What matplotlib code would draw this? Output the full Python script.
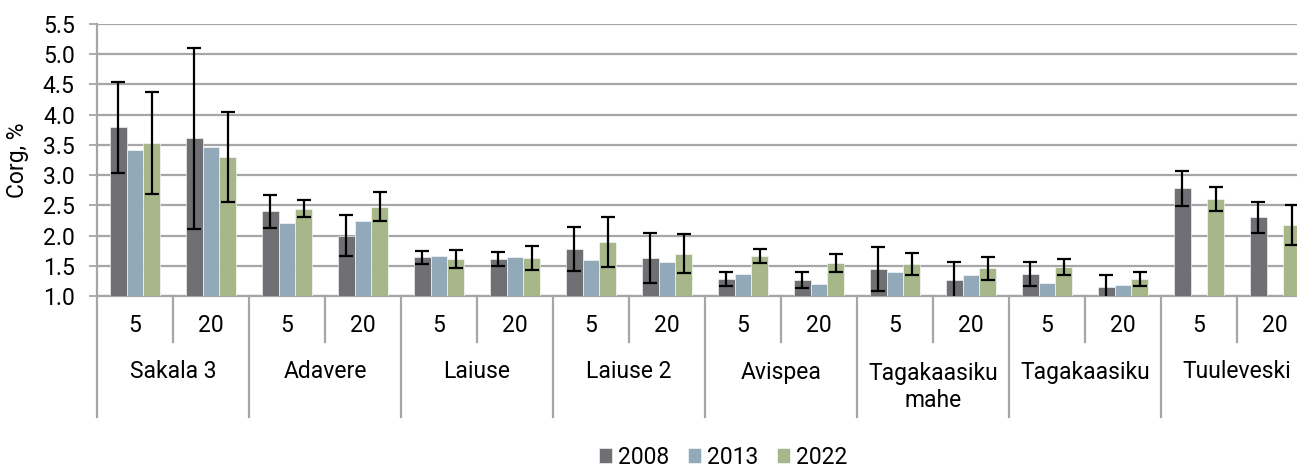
import numpy as np
import matplotlib.pyplot as plt
import matplotlib.transforms as mtransforms

plt.rcParams['font.family'] = ['Roboto', 'DejaVu Sans']

sites = ["Sakala 3", "Adavere", "Laiuse", "Laiuse 2", "Avispea",
         "Tagakaasiku\nmahe", "Tagakaasiku", "Tuuleveski"]
depths = ["5", "20"]
years = ["2008", "2013", "2022"]
colors = ["#706f74", "#91a9b9", "#a8b78a"]

# mean Corg per site/depth (5, 20 for each site in turn)
corg_2008 = [3.79, 3.61, 2.40, 2.00, 1.64, 1.61, 1.78, 1.63,
             1.28, 1.26, 1.45, 1.26, 1.37, 1.15, 2.78, 2.30]
corg_2013 = [3.42, 3.47, 2.21, 2.24, 1.67, 1.64, 1.60, 1.56,
             1.36, 1.20, 1.40, 1.34, 1.21, 1.18, np.nan, np.nan]
corg_2022 = [3.53, 3.30, 2.44, 2.48, 1.61, 1.63, 1.89, 1.70,
             1.66, 1.54, 1.53, 1.46, 1.48, 1.28, 2.60, 2.18]
# standard deviations (2013 has none)
sd_2008 = [0.75, 1.50, 0.27, 0.34, 0.11, 0.11, 0.36, 0.42,
           0.12, 0.13, 0.36, 0.31, 0.20, 0.20, 0.29, 0.26]
sd_2022 = [0.85, 0.74, 0.14, 0.24, 0.15, 0.20, 0.41, 0.32,
           0.11, 0.15, 0.18, 0.19, 0.14, 0.12, 0.20, 0.33]

values = [corg_2008, corg_2013, corg_2022]
errors = [sd_2008, None, sd_2022]

FS = 16.5

fig = plt.figure(figsize=(12.97, 4.68), dpi=100)
ax = fig.add_axes([97 / 1297, 172 / 468, 1216 / 1297, 272 / 468])

n = len(corg_2008)
x = np.arange(n)
w = 0.22
for i in range(3):
    ax.bar(x + (i - 1) * w, values[i], w, color=colors[i], label=years[i],
           edgecolor="white", linewidth=0.4, zorder=3)
    if errors[i] is not None:
        ax.errorbar(x + (i - 1) * w, values[i], yerr=errors[i], fmt="none",
                    ecolor="black", elinewidth=1.6, capsize=5, capthick=1.6,
                    zorder=4)

ax.set_xlim(-0.5, n - 0.5)
ax.set_ylim(1.0, 5.5)
ticks = np.arange(1.0, 5.51, 0.5)
ax.set_yticks(ticks)
ax.set_yticklabels(["%.1f" % v for v in ticks], fontsize=FS)
ax.yaxis.grid(True, color="#a6a6a6", linewidth=1.6, zorder=0)
ax.set_axisbelow(True)
ax.tick_params(axis="y", length=6, width=1.3, color="#a6a6a6", pad=10)
ax.set_xticks([])
for s in ["top", "right"]:
    ax.spines[s].set_visible(False)
for s in ["left", "bottom"]:
    ax.spines[s].set_color("#a6a6a6")
    ax.spines[s].set_linewidth(1.6)
ax.set_ylabel("Corg, %", fontsize=FS, labelpad=10)

# two-level category axis below the bars
trans = mtransforms.blended_transform_factory(ax.transData, fig.transFigure)
y_axis = 172 / 468
y_depth_line = (468 - 342) / 468
y_site_line = (468 - 417) / 468
y_depth_txt = (468 - 326) / 468
y_site_txt = (468 - 372) / 468
y_site_txt2 = (468 - 387) / 468

for k in range(n + 1):
    bx = k - 0.5
    y_end = y_site_line if k % 2 == 0 else y_depth_line
    ax.plot([bx, bx], [y_axis, y_end], transform=trans, color="#a6a6a6",
            linewidth=1.6, clip_on=False)
for k in range(n):
    ax.text(k, y_depth_txt, depths[k % 2], transform=trans, ha="center",
            va="center", fontsize=FS)
for j, site in enumerate(sites):
    yy = y_site_txt2 if "\n" in site else y_site_txt
    ax.text(2 * j + 0.5, yy, site, transform=trans, ha="center",
            va="center", fontsize=FS, linespacing=1.2)

fig.legend(loc="center", bbox_to_anchor=(723 / 1297, (468 - 457) / 468),
           ncol=3, frameon=False, fontsize=FS, handlelength=0.6,
           handleheight=0.6, handletextpad=0.25, columnspacing=0.8)

fig.savefig("out.png", dpi=100)
